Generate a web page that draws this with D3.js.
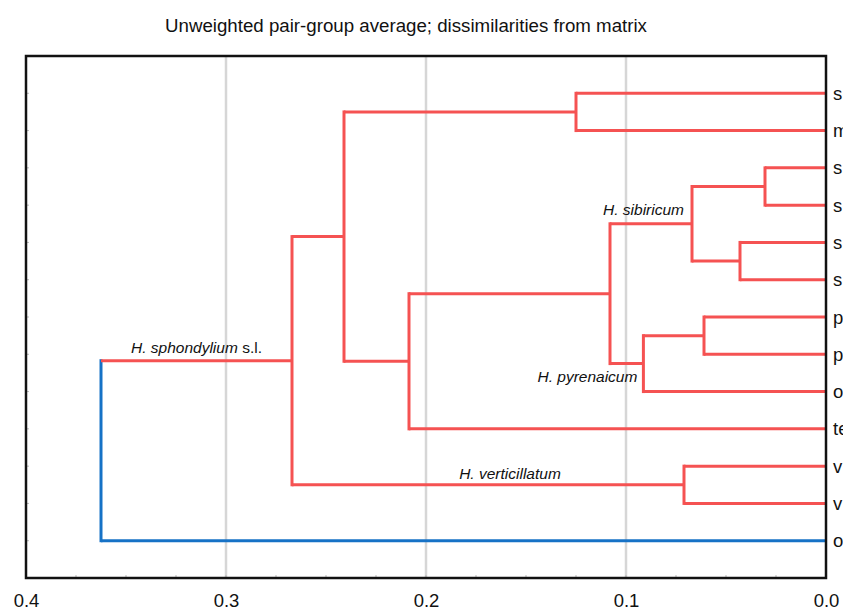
<!DOCTYPE html>
<html>
<head>
<meta charset="utf-8">
<script src="https://cdn.jsdelivr.net/npm/d3@7"></script>
<style>
  body { margin: 0; background: #fff; }
  svg { font-family: "Liberation Sans", Arial, sans-serif; }
</style>
</head>
<body>
<svg width="843" height="611"></svg>
<script>
// leaf labels, top to bottom (cut off by the right edge as in the picture)
const leaves = ["s", "m", "s", "s", "s", "s", "p", "p", "o", "te", "v", "v", "o"];
// merges: [child a, child b, height]; new clusters get ids 13, 14, ...
const merges = [
  [2, 3, 0.0305],   // 13
  [4, 5, 0.043],    // 14
  [6, 7, 0.061],    // 15
  [13, 14, 0.067],  // 16 sibiricum
  [10, 11, 0.071],  // 17 verticillatum
  [15, 8, 0.0913],  // 18 pyrenaicum
  [16, 18, 0.108],  // 19
  [0, 1, 0.125],    // 20
  [19, 9, 0.2085],  // 21
  [20, 21, 0.241],  // 22
  [22, 17, 0.267],  // 23 sphondylium s.l.
  [23, 12, 0.3625]  // 24 root
];
const xTicks = [0.4, 0.3, 0.2, 0.1, 0.0];
const gridValues = [0.3, 0.2, 0.1];
const cladeNames = [
  {node: 23, text: "H. sphondylium", extra: " s.l."},
  {node: 17, text: "H. verticillatum", extra: ""},
  {node: 16, text: "H. sibiricum", extra: ""},
  {node: 18, text: "H. pyrenaicum", extra: ""}
];

const red = "#f55252", blue = "#1672c6";
const svg = d3.select("svg");
const margin = {top: 56, right: 17, bottom: 33, left: 26};
const width = +svg.attr("width"), height = +svg.attr("height");
const x0 = margin.left, x1 = width - margin.right;
const y0 = margin.top, y1 = height - margin.bottom;

const x = d3.scaleLinear().domain([0.4, 0]).range([x0, x1]);
const y = d3.scalePoint().domain(d3.range(leaves.length)).range([y0, y1]).padding(1);

// build the tree from the merge list
const nodes = leaves.map((name, i) => ({id: i, name: name, h: 0, y: y(i)}));
merges.forEach((m, k) => {
  const a = nodes[m[0]], b = nodes[m[1]];
  nodes.push({id: leaves.length + k, h: m[2], children: [a, b], y: (a.y + b.y) / 2});
});
const root = nodes[nodes.length - 1];
// colour: root and the outgroup leaf blue, the rest red
root.color = blue;
(function paint(n) {
  (n.children || []).forEach(c => {
    c.color = c.id === 12 ? blue : red;
    paint(c);
  });
})(root);

// title
svg.append("text")
  .attr("x", 406).attr("y", 32)
  .attr("text-anchor", "middle")
  .style("font-size", "18.7px").attr("fill", "#111")
  .text("Unweighted pair-group average; dissimilarities from matrix");

// grid lines
svg.append("g").selectAll("line").data(gridValues).enter().append("line")
  .attr("x1", d => x(d)).attr("x2", d => x(d))
  .attr("y1", y0).attr("y2", y1)
  .attr("stroke", "#d6d6d6").attr("stroke-width", 2.5);

// small ticks inside the frame
svg.append("g").selectAll("line").data(d3.range(1, 16).map(i => i * 0.025)).enter().append("line")
  .attr("x1", d => x(d)).attr("x2", d => x(d))
  .attr("y1", y1).attr("y2", y1 - 3)
  .attr("stroke", "#bbb").attr("stroke-width", 1);
svg.append("g").selectAll("line").data(d3.range(leaves.length)).enter().append("line")
  .attr("x1", x0).attr("x2", x0 + 3)
  .attr("y1", d => y(d)).attr("y2", d => y(d))
  .attr("stroke", "#bbb").attr("stroke-width", 1);

// branches
const g = svg.append("g").attr("fill", "none").attr("stroke-width", 3);
nodes.filter(n => n.children).forEach(n => {
  const ys = n.children.map(c => c.y);
  g.append("line")
    .attr("x1", x(n.h)).attr("x2", x(n.h))
    .attr("y1", d3.min(ys) - 1.5).attr("y2", d3.max(ys) + 1.5)
    .attr("stroke", n.color);
  n.children.forEach(c => {
    g.append("line")
      .attr("x1", x(n.h)).attr("x2", x(c.h))
      .attr("y1", c.y).attr("y2", c.y)
      .attr("stroke", c.color);
  });
});

// frame
svg.append("rect")
  .attr("x", x0).attr("y", y0)
  .attr("width", x1 - x0).attr("height", y1 - y0)
  .attr("fill", "none").attr("stroke", "#111").attr("stroke-width", 2.5);

// leaf labels
svg.append("g").selectAll("text").data(nodes.slice(0, leaves.length)).enter().append("text")
  .attr("x", x1 + 7).attr("y", d => d.y + 6.5)
  .style("font-size", "18.5px").attr("fill", "#111")
  .text(d => d.name);

// x axis labels
const axis = svg.append("g")
  .attr("transform", `translate(0, ${y1})`)
  .call(d3.axisBottom(x).tickValues(xTicks).tickFormat(d3.format(".1f")).tickSize(0).tickPadding(16));
axis.select(".domain").remove();
axis.selectAll("text").style("font-size", "18.5px").style("font-family", "Liberation Sans, Arial, sans-serif").attr("fill", "#111");

// clade names
const nodeById = id => nodes[id];
const parentOf = id => nodes.find(n => n.children && n.children.some(c => c.id === id));
const place = {
  23: n => ({x: (x(n.h) + x(parentOf(23).h)) / 2, y: n.y - 8, anchor: "middle"}),
  17: n => ({x: x(0.158), y: n.y - 6, anchor: "middle"}),
  16: n => ({x: x(n.h) - 8, y: n.y - 9, anchor: "end"}),
  18: n => ({x: x(n.h) - 6, y: n.y + 18, anchor: "end"})
};
cladeNames.forEach(c => {
  const p = place[c.node](nodeById(c.node));
  const t = svg.append("text")
    .attr("x", p.x).attr("y", p.y)
    .attr("text-anchor", p.anchor)
    .style("font-size", "15.5px").attr("fill", "#111");
  t.append("tspan").style("font-style", "italic").text(c.text);
  if (c.extra) t.append("tspan").text(c.extra);
});
</script>
</body>
</html>
